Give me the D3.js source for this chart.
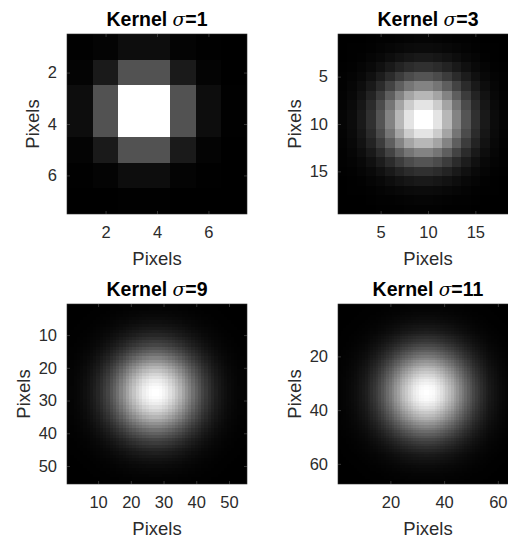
<!DOCTYPE html>
<html>
<head>
<meta charset="utf-8">
<script src="https://cdn.jsdelivr.net/npm/d3@7"></script>
<style>
  html, body { margin: 0; padding: 0; background: #fff; }
  svg { display: block; }
  text { font-family: "Liberation Sans", Arial, Helvetica, sans-serif; }
</style>
</head>
<body>
<div id="chart"></div>
<script>
// Gaussian kernels shown as grayscale images. Each kernel is separable, so it is
// stored as its 1-D profile; cell (r, c) of the image is profile[r] * profile[c].
const sigmas = [1, 3, 9, 11];

const profile1 = [0.05, 0.32, 1.00, 1.00, 0.32, 0.05, 0.003];

const profile3 = [0.018, 0.045, 0.097, 0.189, 0.329, 0.513, 0.717, 0.895, 1.00,
                  1.00, 0.895, 0.717, 0.513, 0.329, 0.189, 0.097, 0.045, 0.018, 0.007];

const profile9 = [0.013, 0.018, 0.025, 0.033, 0.044, 0.058, 0.075, 0.096, 0.12, 0.15,
                  0.19, 0.23, 0.27, 0.33, 0.38, 0.44, 0.51, 0.57, 0.64, 0.71,
                  0.77, 0.83, 0.88, 0.93, 0.96, 0.99, 1.00,
                  1.00, 0.99, 0.96, 0.93, 0.88, 0.83, 0.77, 0.71, 0.64, 0.57,
                  0.51, 0.44, 0.38, 0.33, 0.27, 0.23, 0.19, 0.15, 0.12, 0.096,
                  0.075, 0.058, 0.044, 0.033, 0.025, 0.018, 0.013, 0.009];

const profile11 = [0.013, 0.017, 0.021, 0.028, 0.035, 0.044, 0.055, 0.068, 0.084, 0.10,
                   0.12, 0.15, 0.18, 0.21, 0.24, 0.28, 0.33, 0.37, 0.42, 0.47,
                   0.52, 0.58, 0.63, 0.69, 0.74, 0.79, 0.84, 0.88, 0.92, 0.95,
                   0.98, 0.99, 1.00,
                   1.00, 0.99, 0.98, 0.95, 0.92, 0.88, 0.84, 0.79, 0.74, 0.69,
                   0.63, 0.58, 0.52, 0.47, 0.42, 0.37, 0.33, 0.28, 0.24, 0.21,
                   0.18, 0.15, 0.12, 0.10, 0.084, 0.068, 0.055, 0.044, 0.035, 0.028,
                   0.021, 0.017, 0.013, 0.010];

const ticks1 = [2, 4, 6];
const ticks3 = [5, 10, 15];
const ticks9 = [10, 20, 30, 40, 50];
const ticks11 = [20, 40, 60];

const axisLabel = "Pixels";

const profiles = [profile1, profile3, profile9, profile11];
const tickSets = [ticks1, ticks3, ticks9, ticks11];

// ---- layout ----
const width = 508, height = 542;
const size = 180;
const lefts = [67, 338];
const tops = [34, 304];
const tickFont = 16.5, labelFont = 18.5, titleFont = 19.5;
const textColor = "#2b2b2b";
const fmt = d3.format("d");

const svg = d3.select("#chart").append("svg")
  .attr("width", width)
  .attr("height", height);

const gray = d3.scaleLinear().domain([0, 1]).range(["#000000", "#ffffff"]).clamp(true);

sigmas.forEach((sigma, k) => {
  const prof = profiles[k];
  const ticks = tickSets[k];
  const n = prof.length;
  const x0 = lefts[k % 2];
  const y0 = tops[Math.floor(k / 2)];

  const x = d3.scaleLinear().domain([0.5, n + 0.5]).range([x0, x0 + size]);
  const y = d3.scaleLinear().domain([0.5, n + 0.5]).range([y0, y0 + size]);

  const peak = d3.max(prof) * d3.max(prof);
  const cells = d3.cross(d3.range(n), d3.range(n), (r, c) => ({
    r, c, v: prof[r] * prof[c] / peak
  }));

  const g = svg.append("g");

  g.append("g")
    .attr("shape-rendering", "crispEdges")
    .selectAll("rect")
    .data(cells)
    .join("rect")
    .attr("x", d => x(d.c + 0.5))
    .attr("y", d => y(d.r + 0.5))
    .attr("width", d => x(d.c + 1.5) - x(d.c + 0.5))
    .attr("height", d => y(d.r + 1.5) - y(d.r + 0.5))
    .attr("fill", d => gray(d.v));

  // frame
  g.append("rect")
    .attr("x", x0).attr("y", y0)
    .attr("width", size).attr("height", size)
    .attr("fill", "none")
    .attr("stroke", textColor)
    .attr("stroke-width", 0.6);

  const styleAxis = sel => {
    sel.select(".domain").remove();
    sel.selectAll(".tick line").attr("stroke", "#5a5a5a").attr("stroke-width", 0.6);
    sel.selectAll(".tick text")
      .attr("fill", textColor)
      .attr("font-size", tickFont)
      .attr("font-family", "'Liberation Sans', Arial, Helvetica, sans-serif");
  };

  // bottom axis with labels, ticks pointing inward
  g.append("g")
    .attr("transform", `translate(0,${y0 + size})`)
    .call(d3.axisBottom(x).tickValues(ticks).tickFormat(fmt).tickSize(-3).tickPadding(12))
    .call(styleAxis);

  // top axis ticks only
  g.append("g")
    .attr("transform", `translate(0,${y0})`)
    .call(d3.axisTop(x).tickValues(ticks).tickSize(-3).tickFormat(""))
    .call(styleAxis);

  // left axis with labels
  const leftAxis = g.append("g")
    .attr("transform", `translate(${x0},0)`)
    .call(d3.axisLeft(y).tickValues(ticks).tickFormat(fmt).tickSize(-3).tickPadding(10))
    .call(styleAxis);

  // right axis ticks only
  g.append("g")
    .attr("transform", `translate(${x0 + size},0)`)
    .call(d3.axisRight(y).tickValues(ticks).tickSize(-3).tickFormat(""))
    .call(styleAxis);

  // widest y tick label decides where the y label goes
  let maxW = 0;
  leftAxis.selectAll(".tick text").each(function () {
    maxW = Math.max(maxW, this.getComputedTextLength());
  });

  g.append("text")
    .attr("x", x0 + size / 2)
    .attr("y", y0 + size + 51)
    .attr("text-anchor", "middle")
    .attr("font-size", labelFont)
    .attr("fill", textColor)
    .text(axisLabel);

  const yLabelX = x0 - 10 - maxW - 9;
  g.append("text")
    .attr("transform", `translate(${yLabelX},${y0 + size / 2}) rotate(-90)`)
    .attr("text-anchor", "middle")
    .attr("font-size", labelFont)
    .attr("fill", textColor)
    .text(axisLabel);

  const title = g.append("text")
    .attr("x", x0 + size / 2)
    .attr("y", y0 - 8)
    .attr("text-anchor", "middle")
    .attr("font-size", titleFont)
    .attr("font-weight", "bold")
    .attr("fill", "#000");
  title.append("tspan").text("Kernel ");
  title.append("tspan").attr("font-style", "italic").attr("font-weight", "normal")
    .attr("font-family", "'DejaVu Serif', serif").attr("font-size", titleFont - 1).text("σ");
  title.append("tspan").text("=" + sigma);
});
</script>
</body>
</html>
